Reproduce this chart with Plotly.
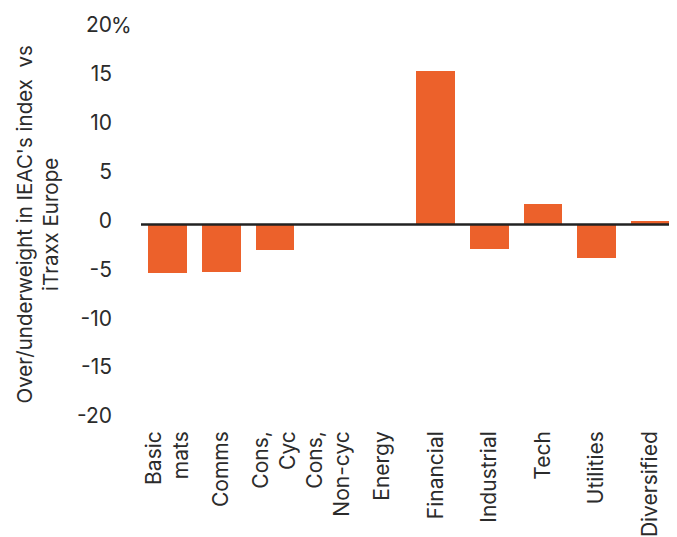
import plotly.graph_objects as go

# Sector over/underweight of IEAC's index vs iTraxx Europe (percentage points)
sectores = ["Basic<br>mats", "Comms", "Cons,<br>Cyc", "Cons,<br>Non-cyc", "Energy",
            "Financial", "Industrial", "Tech", "Utilities", "Diversified"]
valores = [-5.0, -4.9, -2.6, 0.0, 0.0, 15.7, -2.5, 2.1, -3.4, 0.35]

tick_vals = [20, 15, 10, 5, 0, -5, -10, -15, -20]
tick_text = ["20", "15", "10", "5", "0", "-5", "-10", "-15", "-20"]

NARANJA = "#EC612B"
TEXTO = "#2b2b2b"
FUENTE = "Inter"

# la pagina tiene 8px de margen en el body: se descuentan aqui
OFF = 8
W, H = 677 - OFF, 537 - OFF
ML, MR, MT, MB = 141 - OFF, 0, 29 - OFF, 115

fig = go.Figure()
fig.add_trace(go.Bar(x=list(range(len(sectores))), y=valores, marker_color=NARANJA,
                     marker_line_width=0, width=0.727))

# linea del cero, por encima de las barras
fig.add_shape(type="line", xref="paper", yref="y", x0=0, x1=1, y0=0, y1=0,
              line=dict(color="#222222", width=2.5), layer="above")

pw = W - ML - MR
# "%" pegado al 20
fig.add_annotation(x=(109 - OFF - ML) / pw, y=20, xref="paper", yref="y", text="%",
                   showarrow=False, xanchor="left", yanchor="middle", yshift=4,
                   font=dict(family=FUENTE, size=21, color=TEXTO))
# titulo eje y
fig.add_annotation(x=(37 - OFF - ML) / pw, y=0.5, xref="paper", yref="paper",
                   text="Over/underweight in IEAC's index  vs<br>iTraxx Europe",
                   textangle=-90, showarrow=False, xanchor="center", yanchor="middle",
                   font=dict(family=FUENTE, size=20.5, color=TEXTO))

fig.update_layout(
    width=W, height=H,
    margin=dict(l=ML, r=MR, t=MT, b=MB),
    plot_bgcolor="white", paper_bgcolor="white",
    showlegend=False, bargap=0,
    font=dict(family=FUENTE, color=TEXTO),
    xaxis=dict(range=[-0.5, len(sectores) - 0.5], tickmode="array",
               tickvals=list(range(len(sectores))), ticktext=sectores,
               tickangle=-90, showgrid=False, zeroline=False, showline=False,
               ticks="", ticklabelstandoff=6,
               tickfont=dict(family=FUENTE, size=21, color=TEXTO)),
    yaxis=dict(range=[-20, 20], tickmode="array", tickvals=tick_vals, ticktext=tick_text,
               showgrid=False, zeroline=False, showline=False, ticks="",
               ticklabelstandoff=28, ticklabelshift=-4,
               tickfont=dict(family=FUENTE, size=21, color=TEXTO)),
)

fig.write_html("out.html")
